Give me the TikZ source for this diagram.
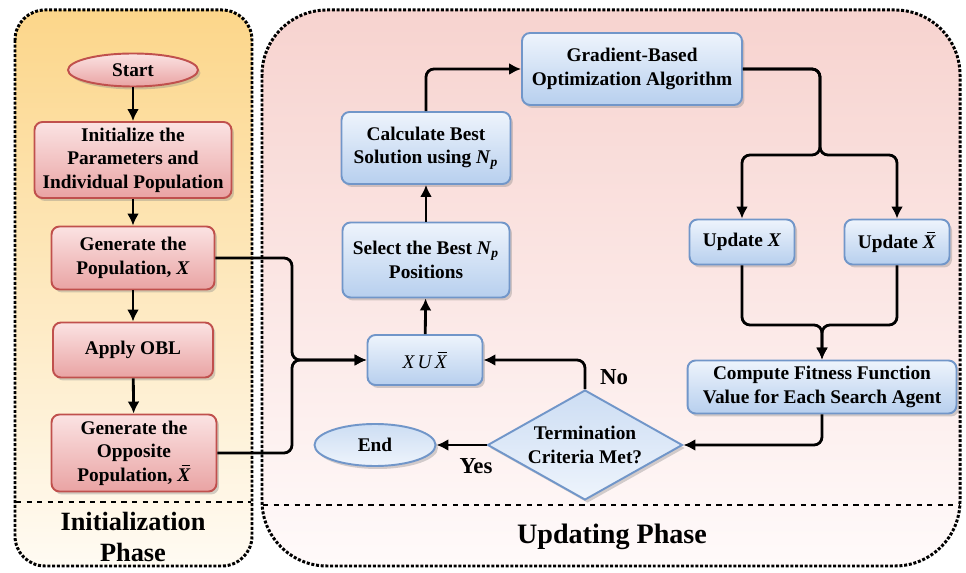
\documentclass[tikz,border=0pt]{standalone}
\usepackage{fontspec}
\setmainfont{Liberation Serif}
\usetikzlibrary{shapes.geometric,shadows,arrows.meta}
\definecolor{redline}{HTML}{C0504D}
\definecolor{redtop}{HTML}{FBE3E3}
\definecolor{redbot}{HTML}{E9A3A3}
\definecolor{blueline}{HTML}{7196C9}
\definecolor{bluetop}{HTML}{EEF4FC}
\definecolor{bluebot}{HTML}{B7CFEE}
\definecolor{inittop}{HTML}{FCD68A}
\definecolor{initbot}{HTML}{FFFBF3}
\definecolor{updtop}{HTML}{F7D3CF}
\definecolor{updbot}{HTML}{FFFAFA}
\newcommand{\xbarsym}{\textit{X}\llap{\rule[0.76em]{0.42em}{0.08em}\kern0.04em}}
\newcommand{\Nsub}{\textit{N}\textsubscript{\textit{p}}}
\begin{document}
\begin{tikzpicture}[x=0.02cm,y=-0.02cm,
  >={Latex[length=2.4mm,width=2.4mm]},
  every node/.style={font=\fontsize{11}{13.3}\selectfont\bfseries, align=center},
  shade/.style={drop shadow={opacity=0.35,shadow xshift=0.5mm,shadow yshift=-0.6mm}},
  redbox/.style={shade, draw=redline, line width=1.1pt, rounded corners=1.6mm, top color=redtop, bottom color=redbot, inner sep=2pt},
  bluebox/.style={shade, draw=blueline, line width=1.1pt, rounded corners=1.6mm, top color=bluetop, bottom color=bluebot, inner sep=2pt},
  link/.style={->, line width=1.6pt, rounded corners=1.6mm},
  panel/.style={densely dotted, line width=1.7pt}]
\useasboundingbox (0,0) rectangle (966,573);

% panels
\draw[panel, top color=inittop, bottom color=initbot, rounded corners=0.6cm] (15,10) rectangle (252,566);
\draw[panel, top color=updtop, bottom color=updbot, rounded corners=1.3cm] (262,10) rectangle (960,566);
\draw[dashed, line width=1pt] (16,502) -- (251,502);
\draw[dashed, line width=1pt] (263,505) -- (959,505);
\node[font=\fontsize{15}{17.5}\selectfont\bfseries] (initlbl) at (133,537) {Initialization\\Phase};
\node[font=\fontsize{16}{19}\selectfont\bfseries] (updlbl) at (612,537) {Updating Phase};

% initialization phase
\node[redbox, ellipse, rounded corners=0pt, minimum width=2.6cm, minimum height=0.66cm] (start) at (133,70) {Start};
\node[redbox, minimum width=3.94cm, minimum height=1.52cm] (init) at (133,160) {Initialize the\\Parameters and\\Individual Population};
\node[redbox, minimum width=3.26cm, minimum height=1.26cm] (genpop) at (133,258) {Generate the\\Population, \textit{X}};
\node[redbox, minimum width=3.2cm, minimum height=1.1cm] (obl) at (133,350) {Apply OBL};
\node[redbox, minimum width=3.3cm, minimum height=1.54cm] (genopp) at (134,453) {Generate the\\Opposite\\Population, \xbarsym};
\draw[link] (start) -- (init);
\draw[link] (init) -- (genpop);
\draw[link] (genpop) -- (obl);
\draw[link] (obl) -- (genopp);

% updating phase
\node[bluebox, minimum width=2.3cm, minimum height=1.0cm, font=\fontsize{11}{13.3}\selectfont] (xux) at (425,360) {\textit{X\,U\,}\xbarsym};
\node[bluebox, minimum width=3.34cm, minimum height=1.5cm] (select) at (426,260) {Select the Best \Nsub\\Positions};
\node[bluebox, minimum width=3.38cm, minimum height=1.44cm] (calc) at (426,148) {Calculate Best\\Solution using \Nsub};
\node[bluebox, minimum width=4.4cm, minimum height=1.44cm] (grad) at (632,69) {Gradient-Based\\Optimization Algorithm};
\node[bluebox, minimum width=2.1cm, minimum height=0.9cm] (updx) at (742,242) {Update \textit{X}};
\node[bluebox, minimum width=2.1cm, minimum height=0.9cm] (updxb) at (897,242) {Update \xbarsym};
\node[bluebox, minimum width=5.38cm, minimum height=1.06cm] (comp) at (822,387) {Compute Fitness Function\\Value for Each Search Agent};
\node[bluebox, diamond, rounded corners=0pt, aspect=1.75, inner sep=0pt, minimum width=3.9cm, minimum height=2.2cm, top color=bluebot!70, bottom color=bluetop] (term) at (585,445) {Termination\\Criteria Met?};
\node[bluebox, ellipse, rounded corners=0pt, minimum width=2.42cm, minimum height=0.84cm, top color=bluebot!70, bottom color=bluetop] (end) at (375,445) {End};

\coordinate (mergeL) at (292,360);
\coordinate (splitG) at (820,155);
\coordinate (mergeU) at (comp.north |- 0,325);

\draw[link] (genpop.east) -| (mergeL) -- (xux.west);
\draw[link] (genopp.east) -| (mergeL) -- (xux.west);
\draw[link] (xux) -- (select);
\draw[link] (select) -- (calc);
\draw[link] (calc.north) |- (grad.west);
\draw[link] (grad.east) -| (splitG) -| (updx.north);
\draw[link] (grad.east) -| (splitG) -| (updxb.north);
\draw[link] (updx.south) |- (mergeU) -- (comp.north);
\draw[link] (updxb.south) |- (mergeU) -- (comp.north);
\draw[link] (comp.south) |- (term.east);
\draw[link] (term.north) |- (xux.east);
\draw[link] (term.west) -- (end.east);
\node[font=\fontsize{13}{15}\selectfont\bfseries] (nolbl) at (614,377) {No};
\node[font=\fontsize{13}{15}\selectfont\bfseries] (yeslbl) at (476,466) {Yes};
\end{tikzpicture}
\end{document}
